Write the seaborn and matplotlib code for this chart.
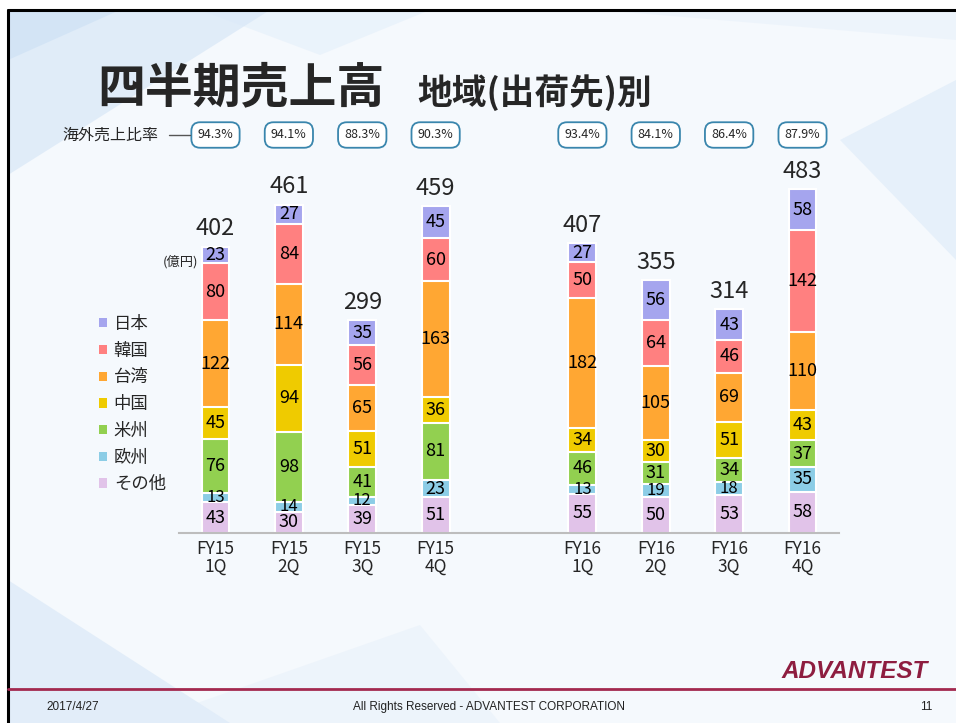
import numpy as np
import pandas as pd
import seaborn as sns
import matplotlib
matplotlib.use('Agg')
import matplotlib.pyplot as plt
import matplotlib.transforms as mtransforms
from matplotlib.patches import Patch, Polygon, Rectangle
from matplotlib.lines import Line2D

# data (億円), stacked bottom -> top
quarters = ['FY15\n1Q', 'FY15\n2Q', 'FY15\n3Q', 'FY15\n4Q',
            'FY16\n1Q', 'FY16\n2Q', 'FY16\n3Q', 'FY16\n4Q']
regions = ['その他', '欧州', '米州', '中国', '台湾', '韓国', '日本']
sonota = [43, 30, 39, 51, 55, 50, 53, 58]
oushu = [13, 14, 12, 23, 13, 19, 18, 35]
beishu = [76, 98, 41, 81, 46, 31, 34, 37]
chugoku = [45, 94, 51, 36, 34, 30, 51, 43]
taiwan = [122, 114, 65, 163, 182, 105, 69, 110]
kankoku = [80, 84, 56, 60, 50, 64, 46, 142]
nihon = [23, 27, 35, 45, 27, 56, 43, 58]
overseas = ['94.3%', '94.1%', '88.3%', '90.3%', '93.4%', '84.1%', '86.4%', '87.9%']

colors = ['#E1C3E9', '#8CCDE6', '#92D050', '#EFCB00', '#FFA733', '#FF8080', '#A5A5EE']

# FY15 and FY16 separated by one empty slot
pos = [0, 1, 2, 3, 5, 6, 7, 8]

df = pd.DataFrame({'pos': pos, 'その他': sonota, '欧州': oushu, '米州': beishu,
                   '中国': chugoku, '台湾': taiwan, '韓国': kankoku, '日本': nihon})
cum = df[regions].cumsum(axis=1)
totals = cum['日本']

sns.set_style('white')
plt.rcParams['font.family'] = ['Noto Sans CJK JP', 'DejaVu Sans']

W, H = 956, 723
fig = plt.figure(figsize=(W / 100, H / 100), dpi=100, facecolor='white')


def fpx(pts):
    return [(x / W, 1 - y / H) for x, y in pts]


# slide background
fig.add_artist(Rectangle((8 / W, 0), 1 - 8 / W, 1 - 10 / H, transform=fig.transFigure,
                         facecolor='#F5F9FD', edgecolor='none', zorder=-10))
for pts, c, a in [([(8, 10), (270, 10), (8, 175)], '#C8DDF4', 0.45),
                  ([(8, 10), (120, 10), (8, 60)], '#BBD6F2', 0.35),
                  ([(200, 10), (430, 10), (320, 55)], '#D8E8F8', 0.35),
                  ([(600, 10), (956, 10), (956, 40)], '#E3EEFA', 0.4),
                  ([(840, 140), (956, 80), (956, 260)], '#D0E3F6', 0.4),
                  ([(8, 580), (230, 723), (8, 723)], '#CCE0F5', 0.45),
                  ([(140, 723), (420, 625), (500, 723)], '#E2EDF9', 0.4)]:
    fig.add_artist(Polygon(fpx(pts), closed=True, transform=fig.transFigure,
                           facecolor=c, alpha=a, edgecolor='none', zorder=-9))
fig.add_artist(Line2D([8 / W, 1], [1 - 10 / H] * 2, color='black', lw=2.2))
fig.add_artist(Line2D([8 / W] * 2, [0, 1 - 10 / H], color='black', lw=2.2))
fig.add_artist(Line2D([8 / W, 1], [1 - 689 / H] * 2, color='#A3294F', lw=2))

ax = fig.add_axes([0.18703, 0.26279, 0.6908, 0.4924])
ax.set_facecolor('none')

# stacked bars: draw cumulative heights from the top layer down
for r, c in reversed(list(zip(regions, colors))):
    sns.barplot(x=df['pos'], y=cum[r], native_scale=True, color=c, saturation=1,
                width=0.38, edgecolor='white', linewidth=1.5, errorbar=None, ax=ax)

# segment labels, thin segments get a slightly smaller font
for r in regions:
    bottoms = cum[r] - df[r]
    for p, b, v in zip(pos, bottoms, df[r]):
        fs = 12 if v < 20 else 13
        ax.text(p, b + v / 2, str(v), ha='center', va='center', fontsize=fs, color='black')

for p, t in zip(pos, totals):
    ax.annotate(str(t), (p, t), xytext=(0, 13), textcoords='offset points',
                ha='center', va='center', fontsize=17)

# overseas ratio boxes
trans = mtransforms.blended_transform_factory(ax.transData, fig.transFigure)
for p, s in zip(pos, overseas):
    ax.text(p, 1 - 135 / H, s, transform=trans, ha='center', va='center', fontsize=9,
            bbox=dict(boxstyle='round,pad=0.5,rounding_size=0.7', fc='white',
                      ec='#3A86AD', lw=1.3))
fig.text(158 / W, 1 - 135 / H, '海外売上比率', ha='right', va='center', fontsize=11.5)
fig.add_artist(Line2D([169 / W, 190 / W], [1 - 135 / H] * 2, color='#555555', lw=1))
fig.text(198 / W, 1 - 262 / H, '(億円)', ha='right', va='center', fontsize=9.5)

ax.set_xlim(-0.5, 8.5)
ax.set_ylim(0, 500)
ax.set_xticks(pos, quarters)
ax.set_yticks([])
ax.set_xlabel('')
ax.set_ylabel('')
sns.despine(ax=ax, left=True, top=True, right=True)
ax.spines['bottom'].set_color('#BDBDBD')
ax.spines['bottom'].set_linewidth(1.5)
ax.tick_params(axis='x', length=0, pad=5, labelsize=12.5)
for lbl in ax.get_xticklabels():
    lbl.set_linespacing(1.0)

handles = [Patch(facecolor=c, edgecolor='none', label=r)
           for r, c in reversed(list(zip(regions, colors)))]
fig.legend(handles=handles, loc='upper left', bbox_to_anchor=(99 / W, 1 - 315 / H),
           frameon=False, fontsize=12.5, handlelength=0.45, handleheight=0.45,
           handletextpad=0.4, labelspacing=0.5, borderpad=0, borderaxespad=0)

# titles
fig.text(97 / W, 1 - 88 / H, '四半期売上高', ha='left', va='center', fontsize=34.5,
         fontweight='bold')
fig.text(417 / W, 1 - 93 / H, '地域(出荷先)別', ha='left', va='center', fontsize=25,
         fontweight='bold')

# footer
fig.text(928 / W, 1 - 671 / H, 'ADVANTEST', ha='right', va='center', fontsize=17.5,
         fontweight='bold', style='italic', color='#8E1D40', family='Liberation Sans')
fig.text(46 / W, 1 - 707 / H, '2017/4/27', ha='left', va='center', fontsize=8.5,
         family='Liberation Sans', color='#222222')
fig.text(489 / W, 1 - 707 / H, 'All Rights Reserved - ADVANTEST CORPORATION', ha='center',
         va='center', fontsize=8.5, family='Liberation Sans', color='#222222')
fig.text(932 / W, 1 - 707 / H, '11', ha='right', va='center', fontsize=8.5,
         family='Liberation Sans', color='#222222')

fig.savefig('out.png', dpi=100)
